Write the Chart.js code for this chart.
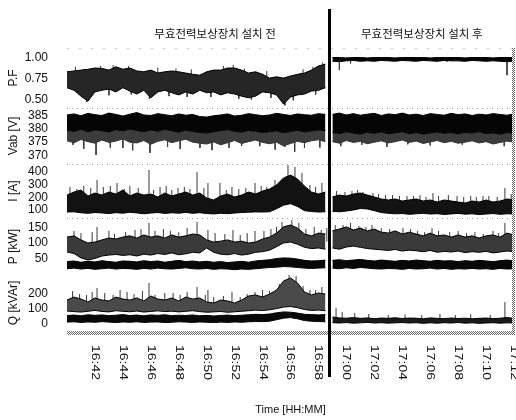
<!DOCTYPE html>
<html><head><meta charset="utf-8">
<script src="https://cdn.jsdelivr.net/npm/chart.js@4.4.1/dist/chart.umd.min.js"></script>
<style>html,body{margin:0;padding:0;background:#fff;}canvas{display:block;}</style>
</head><body>
<canvas id="c" width="516" height="420"></canvas>
<script>
// ---- time (minutes after 16:40) ----
const timesBefore = [0,0.5,1,1.5,2,2.5,3,3.5,4,4.5,5,5.5,6,6.5,7,7.5,8,8.5,9,9.5,10,10.5,11,11.5,12,12.5,13,13.5,14,14.5,15,15.5,16,16.5,17,17.5,18,18.5];
const timesAfter = [19,19.5,20,20.5,21,21.5,22,22.5,23,23.5,24,24.5,25,25.5,26,26.5,27,27.5,28,28.5,29,29.5,30,30.5,31,31.5,32];
const switchTime = 18.75;
const tickMinutes = [2,4,6,8,10,12,14,16,18,20,22,24,26,28,30,32];
const tickLabels = ["16:42","16:44","16:46","16:48","16:50","16:52","16:54","16:56","16:58","17:00","17:02","17:04","17:06","17:08","17:10","17:12"];
const periodTitles = ["무효전력보상장치 설치 전","무효전력보상장치 설치 후"];
const panelTitles = ["P.F","Vab [V]","I [A]","P [kW]","Q [kVAr]"];
const pfTicks = [0.5,0.75,1.0];
const vTicks = [370,375,380,385];
const iTicks = [100,200,300,400];
const pTicks = [50,100,150];
const qTicks = [0,100,200];

// ---- P.F ----
const pfHiBefore = [.83,.84,.85,.86,.875,.87,.85,.89,.86,.875,.84,.83,.85,.815,.83,.84,.83,.815,.80,.79,.83,.85,.85,.875,.875,.85,.815,.83,.80,.755,.77,.755,.78,.80,.815,.85,.90,.92];
const pfLoBefore = [.64,.61,.54,.48,.59,.61,.625,.59,.64,.60,.565,.61,.52,.59,.61,.58,.555,.59,.565,.61,.58,.59,.555,.58,.565,.54,.52,.54,.59,.58,.555,.445,.53,.555,.565,.60,.61,.64];
const pfHiAfter = [1.0,1.0,.995,1.0,1.0,.995,1.0,1.0,1.0,.995,1.0,1.0,1.0,1.0,.995,1.0,1.0,1.0,1.0,.995,1.0,1.0,1.0,.995,1.0,1.0,1.0];
const pfLoAfter = [.955,.95,.96,.965,.955,.96,.955,.965,.96,.955,.965,.96,.955,.965,.96,.955,.965,.96,.96,.955,.965,.96,.955,.96,.955,.95,.955];
const pfSpikesBefore = [[0.6,.89],[1.4,.47],[2.4,.90],[3.0,.55],[3.3,.91],[4.4,.90],[4.6,.56],[5.9,.51],[6.5,.88],[7.3,.54],[7.8,.87],[8.6,.53],[8.9,.86],[10.3,.53],[11.2,.90],[11.9,.91],[12.3,.51],[12.7,.87],[13.2,.50],[14.3,.84],[14.6,.52],[15.6,.43],[16.2,.49],[16.9,.86],[17.6,.89],[17.8,.56],[18.3,.94]];
const pfSpikesAfter = [[19.5,.85],[20.3,.93],[27.2,.95],[31.5,.79]];

// ---- Vab ----
const vHiBefore = [385.2,385.6,384.9,385.8,385.3,385.0,385.9,385.4,384.8,385.5,386.1,385.2,385.0,385.7,385.3,384.9,385.6,385.1,385.4,384.6,384.4,384.9,385.2,385.6,384.8,385.1,385.7,385.3,384.9,385.2,385.8,385.4,385.0,385.6,385.3,385.1,385.7,385.4];
const vCoreBefore = [379.5,379.0,379.8,378.9,379.6,379.3,378.8,379.7,379.2,379.9,379.4,378.9,379.6,379.1,379.8,379.3,378.7,379.5,379.0,378.6,378.4,378.9,379.3,379.7,379.0,378.8,379.4,379.1,378.6,378.9,379.2,378.5,379.0,379.4,378.8,379.2,379.6,379.3];
const vLoBefore = [375.5,374.8,376.0,375.2,374.6,375.8,374.9,375.4,376.2,375.0,374.7,375.6,374.2,375.3,375.9,374.8,375.5,376.1,375.0,374.6,374.3,375.1,374.0,374.8,375.6,374.5,375.2,375.8,374.9,374.4,375.0,373.6,374.5,375.3,374.8,375.5,375.9,375.2];
const vHiAfter = [385.4,385.9,385.2,385.7,385.1,385.5,385.8,385.0,385.6,385.3,385.9,385.2,385.5,385.0,385.7,385.4,385.1,385.8,385.3,385.6,385.0,385.5,385.2,385.7,385.4,385.1,385.6];
const vCoreAfter = [378.6,378.2,378.9,378.4,378.0,378.7,378.3,378.8,378.1,378.5,378.9,378.2,378.6,378.0,378.4,378.8,378.3,378.6,378.1,378.7,378.4,378.9,378.2,378.5,378.0,378.6,378.3];
const vLoAfter = [375.2,374.6,375.6,374.9,375.3,374.4,375.0,375.5,374.7,375.2,375.8,374.9,375.4,374.5,375.1,375.6,374.8,375.3,374.6,375.0,375.5,374.7,375.2,374.3,374.9,375.4,375.0];
const vSpikesBefore = [[0.43,374.0],[1.2,372.5],[2.08,370.2],[3.1,373.0],[4.0,372.8],[4.7,371.9],[5.94,371.0],[7.2,373.2],[8.1,372.5],[9.52,372.8],[10.38,372.0],[11.6,372.9],[12.5,373.6],[13.8,373.5],[14.9,372.2],[15.6,373.3],[16.3,371.4],[17.0,372.8],[18.1,373.0]];
const vSpikesAfter = [[19.6,373.5],[21.1,374.0],[22.9,373.2],[24.4,374.2],[26.0,373.8],[28.3,374.1],[31.3,373.5]];

// ---- I ----
const iHiBefore = [218,242,258,211,234,218,242,226,258,211,234,218,226,203,234,211,226,242,218,234,195,179,211,226,203,218,242,226,250,266,297,353,376,345,289,242,226,242];
const iLoBefore = [84,86,78,74,80,77,72,79,75,82,77,70,76,80,73,78,75,81,74,79,72,69,74,71,76,80,83,85,84,86,110,138,150,128,95,88,84,86];
const iHiAfter = [203,218,211,226,234,218,203,187,179,187,171,179,187,171,179,163,179,171,163,155,171,163,179,163,171,187,179];
const iLoAfter = [90,86,92,100,112,108,95,80,74,70,72,66,70,74,68,71,65,69,73,67,70,64,68,72,66,70,68];
const iSpikesBefore = [[0.21,282],[0.7,266],[1.2,290],[1.7,274],[2.15,337],[2.6,282],[3.1,290],[3.58,313],[4.1,266],[4.5,290],[5.1,274],[5.87,416],[6.2,258],[6.66,282],[7.1,290],[7.5,258],[7.95,274],[8.4,282],[8.8,266],[9.31,400],[9.8,274],[10.09,313],[10.95,313],[11.4,258],[11.81,282],[12.3,266],[12.8,274],[13.46,313],[13.9,290],[14.3,282],[14.89,337],[15.3,330],[15.82,455],[16.32,440],[16.82,392],[17.39,297],[17.8,282],[18.25,313]];
const iSpikesAfter = [[19.3,250],[19.9,242],[20.4,250],[20.8,258],[21.19,242],[21.9,234],[22.3,226],[22.8,218],[23.3,218],[23.8,211],[24.34,211],[24.8,211],[25.27,218],[25.7,203],[26.2,234],[26.6,211],[27.3,218],[27.92,211],[28.4,203],[28.9,211],[29.3,203],[29.78,211],[30.2,211],[30.8,203],[31.35,274],[31.8,226]];

// ---- P (two series) ----
const p1HiBefore = [119,123,110,100,103,110,116,113,119,123,116,126,119,123,116,126,119,123,129,126,110,103,106,110,103,106,100,103,113,119,132,152,158,148,129,123,132,129];
const p1LoBefore = [71,66,52,45,50,58,61,63,60,62,58,64,61,66,63,68,62,65,70,68,84,70,64,62,66,61,64,70,72,77,88,100,103,96,86,82,84,80];
const p1HiAfter = [139,145,152,142,148,139,145,135,132,139,129,135,129,123,132,123,126,119,126,119,123,116,123,126,119,132,126];
const p1LoAfter = [84,80,87,90,86,82,80,78,76,79,74,77,75,72,76,70,73,71,74,69,72,70,73,68,71,74,72];
const p1SpikesBefore = [[0.5,139],[1.0,132],[1.8,135],[2.15,152],[3.0,139],[3.4,129],[4.2,135],[4.87,142],[5.3,145],[5.87,165],[6.3,139],[6.9,145],[7.4,139],[8.0,135],[8.6,148],[9.31,168],[10.09,142],[10.6,132],[11.3,129],[11.88,142],[12.4,126],[12.9,132],[13.46,139],[14.1,139],[14.6,145],[15.0,152],[15.39,168],[16.1,174],[16.6,165],[17.1,145],[17.7,152],[18.2,142],[18.6,148]];
const p1SpikesAfter = [[19.2,158],[19.76,158],[20.3,165],[20.9,155],[21.4,152],[21.83,158],[22.5,148],[23.1,145],[23.6,139],[24.05,148],[24.6,145],[25.1,139],[25.6,135],[26.13,148],[26.6,139],[27.4,135],[28.0,139],[28.6,132],[29.2,135],[29.8,129],[30.5,139],[30.9,132],[31.35,165]];
const p2HiBefore = [40,42,38,41,39,43,40,38,42,41,39,43,40,42,38,41,44,40,42,39,41,38,40,37,39,41,38,42,44,46,50,52,51,48,44,42,43,45];
const p2LoBefore = [17,19,16,18,15,17,19,16,18,17,15,18,16,19,17,16,18,20,17,16,18,15,17,16,14,16,15,17,19,21,22,24,23,21,19,18,19,20];
const p2HiAfter = [44,46,43,45,47,44,42,45,43,41,44,42,45,43,41,44,42,43,40,43,41,44,42,40,43,45,42];
const p2LoAfter = [19,17,20,18,21,19,17,16,18,17,15,18,16,17,19,16,18,15,17,16,18,16,17,15,18,16,17];

// ---- Q (two series) ----
const q1HiBefore = [155,175,162,142,169,155,149,175,162,155,169,149,182,162,155,169,149,175,162,169,142,135,155,149,135,155,182,189,175,195,222,282,302,269,209,189,202,195];
const q1LoBefore = [82,78,75,80,86,79,76,84,80,77,82,75,79,83,78,81,76,80,84,78,74,76,79,73,77,80,84,88,85,90,98,108,112,104,92,86,88,84];
const q2HiBefore = [52,55,50,57,53,56,51,54,58,52,55,50,56,53,57,51,54,52,56,50,53,49,52,55,51,54,57,60,58,62,70,76,74,68,60,58,56,58];
const q2LoBefore = [8,10,6,9,7,11,8,5,9,7,10,6,8,9,5,7,10,8,6,9,7,5,8,6,9,7,10,12,11,14,24,34,38,30,18,14,12,10];
const qHiAfter = [42,36,34,38,33,36,31,35,33,37,32,35,34,30,36,33,31,35,32,34,30,33,35,31,34,38,33];
const qLoAfter = [4,2,5,1,3,6,2,4,1,3,5,2,4,0,3,1,4,2,5,1,3,0,2,4,1,3,2];
const qSpikesBefore = [[0.4,215],[0.9,195],[1.4,189],[1.8,209],[2.15,235],[2.7,202],[3.3,189],[3.8,222],[4.3,209],[4.8,195],[5.4,215],[5.87,269],[6.3,189],[7.0,202],[7.6,202],[8.1,189],[8.6,209],[9.31,242],[9.9,189],[10.09,222],[10.5,175],[11.2,182],[11.81,209],[12.4,175],[12.9,195],[13.46,209],[14.0,222],[14.5,215],[15.2,262],[15.9,335],[16.4,315],[16.9,249],[17.39,222],[17.8,222],[18.25,242]];
const qSpikesAfter = [[19.26,102],[19.7,75],[20.6,69],[21.6,62],[23.0,55],[24.2,58],[25.4,55],[26.7,62],[27.8,55],[28.9,60],[30.3,55],[31.35,142]];

// ---------- styles ----------
const FONT = "'Liberation Sans', Arial, sans-serif";
Chart.defaults.font.family = FONT;
function tile(rows, ink){
  const c = document.createElement('canvas'); c.width = rows[0].length; c.height = rows.length;
  const g = c.getContext('2d'); g.fillStyle = '#fff'; g.fillRect(0,0,c.width,c.height);
  g.fillStyle = ink;
  rows.forEach((r,y)=>{ for(let x=0;x<r.length;x++) if(r[x]==='#') g.fillRect(x,y,1,1); });
  return g.createPattern(c,'repeat');
}
const HATCH = tile(["#.",".#"], '#6a6a6a');

// ---------- build datasets ----------
function pts(times, vals){ return times.map((t,i)=>({x:t,y:vals[i]})); }
function line(times, vals, axis, color, fillSpec, bg){
  return {type:'line', data:pts(times, vals), yAxisID:axis, borderColor:color, borderWidth:1,
    pointRadius:0, tension:0, fill: fillSpec || false, backgroundColor: bg || 'transparent'};
}
function band(times, hi, lo, axis, bg){
  return [line(times, hi, axis, '#000'), line(times, lo, axis, '#000', '-1', bg)];
}
function spikes(list, times, hi, lo, axis){
  const data = [];
  list.forEach(([t,v])=>{
    let idx = 0, best = Infinity;
    times.forEach((tt,k)=>{ const d=Math.abs(tt-t); if(d<best){best=d;idx=k;} });
    data.push({x:t,y:(hi[idx]+lo[idx])/2},{x:t,y:v},{x:t,y:null});
  });
  return {type:'line', data, yAxisID:axis, borderColor:'#3a3a3a', borderWidth:1, pointRadius:0, fill:false, spanGaps:false};
}

const datasets = [
  ...band(timesBefore, pfHiBefore, pfLoBefore, 'yPF', '#262626'),
  ...band(timesAfter, pfHiAfter, pfLoAfter, 'yPF', '#000'),
  spikes(pfSpikesBefore, timesBefore, pfHiBefore, pfLoBefore, 'yPF'),
  spikes(pfSpikesAfter, timesAfter, pfHiAfter, pfLoAfter, 'yPF'),

  line(timesBefore, vHiBefore, 'yV', '#000'),
  line(timesBefore, vCoreBefore, 'yV', '#000', '-1', '#050505'),
  line(timesBefore, vLoBefore, 'yV', '#333', '-1', '#3c3c3c'),
  line(timesAfter, vHiAfter, 'yV', '#000'),
  line(timesAfter, vCoreAfter, 'yV', '#000', '-1', '#050505'),
  line(timesAfter, vLoAfter, 'yV', '#333', '-1', '#3c3c3c'),
  spikes(vSpikesBefore, timesBefore, vCoreBefore, vLoBefore, 'yV'),
  spikes(vSpikesAfter, timesAfter, vCoreAfter, vLoAfter, 'yV'),

  ...band(timesBefore, iHiBefore, iLoBefore, 'yI', '#121212'),
  ...band(timesAfter, iHiAfter, iLoAfter, 'yI', '#121212'),
  spikes(iSpikesBefore, timesBefore, iHiBefore, iLoBefore, 'yI'),
  spikes(iSpikesAfter, timesAfter, iHiAfter, iLoAfter, 'yI'),

  ...band(timesBefore, p1HiBefore, p1LoBefore, 'yP', '#3a3a3a'),
  ...band(timesAfter, p1HiAfter, p1LoAfter, 'yP', '#3a3a3a'),
  spikes(p1SpikesBefore, timesBefore, p1HiBefore, p1LoBefore, 'yP'),
  spikes(p1SpikesAfter, timesAfter, p1HiAfter, p1LoAfter, 'yP'),
  ...band(timesBefore, p2HiBefore, p2LoBefore, 'yP', '#080808'),
  ...band(timesAfter, p2HiAfter, p2LoAfter, 'yP', '#080808'),

  ...band(timesBefore, q1HiBefore, q1LoBefore, 'yQ', '#4a4a4a'),
  spikes(qSpikesBefore, timesBefore, q1HiBefore, q1LoBefore, 'yQ'),
  ...band(timesBefore, q2HiBefore, q2LoBefore, 'yQ', '#080808'),
  ...band(timesAfter, qHiAfter, qLoAfter, 'yQ', '#1a1a1a'),
  spikes(qSpikesAfter, timesAfter, qHiAfter, qLoAfter, 'yQ'),
];

function yAxis(min, max, weight, ticks, title, fmt){
  return {
    type:'linear', position:'left', stack:'panels', stackWeight:weight, min, max,
    afterBuildTicks: s => { s.ticks = ticks.map(v=>({value:v})); },
    afterFit: s => { s.width = 67; },
    grid:{display:false}, border:{display:false},
    ticks:{autoSkip:false, padding:11, color:'#111', font:{size:12}, callback: fmt},
    title:{display:true, text:title, color:'#111', font:{size:12}, padding:{top:6,bottom:0}}
  };
}

const decor = {
  id:'decor',
  beforeDatasetsDraw(chart){
    const ctx = chart.ctx, ca = chart.chartArea, sc = chart.scales;
    ctx.save();
    ctx.strokeStyle='#9a9a9a'; ctx.lineWidth=1; ctx.setLineDash([1,4]);
    ['yV','yI','yP'].forEach(id=>{
      const y = Math.round(sc[id].top)+0.5;
      ctx.beginPath(); ctx.moveTo(ca.left, y); ctx.lineTo(ca.right, y); ctx.stroke();
    });
    ctx.strokeStyle='#c8c8c8'; ctx.setLineDash([2,10]);
    const yt = Math.round(sc.yPF.top)+0.5;
    ctx.beginPath(); ctx.moveTo(ca.left, yt); ctx.lineTo(ca.right, yt); ctx.stroke();
    ctx.restore();
  },
  afterDraw(chart){
    const ctx = chart.ctx, ca = chart.chartArea, xs = chart.scales.x;
    ctx.save();
    ctx.fillStyle = HATCH;
    ctx.fillRect(ca.left, ca.bottom, ca.right-ca.left, 4);
    ctx.fillRect(ca.right-2, ca.top, 3, ca.bottom-ca.top+4);
    const sx = xs.getPixelForValue(switchTime);
    ctx.fillStyle='#000';
    ctx.fillRect(Math.round(sx)-1, 9, 3, 368);
    ctx.font = "11.5px 'Noto Sans CJK KR', sans-serif";
    ctx.textAlign='center'; ctx.textBaseline='middle'; ctx.fillStyle='#111';
    ctx.fillText(periodTitles[0], xs.getPixelForValue(10.6), 34);
    ctx.fillText(periodTitles[1], xs.getPixelForValue(25.4), 34);
    ctx.font = "11px " + FONT;
    ctx.textAlign='left';
    xs.ticks.forEach(t=>{
      const px = xs.getPixelForValue(t.value);
      ctx.save(); ctx.translate(px, 345); ctx.rotate(Math.PI/2); ctx.scale(1.27,1);
      ctx.fillText(t.label, 0, 0); ctx.restore();
    });
    ctx.restore();
  }
};

new Chart(document.getElementById('c'), {
  data:{datasets},
  options:{
    responsive:false, animation:false, devicePixelRatio:1,
    layout:{padding:{top:48,right:2,left:0,bottom:0}},
    plugins:{legend:{display:false}, tooltip:{enabled:false}},
    scales:{
      x:{type:'linear', min:0, max:32,
        afterBuildTicks: s => { s.ticks = tickMinutes.map(v=>({value:v})); },
        afterFit: s => { s.height = 89; },
        ticks:{display:false, callback:(v)=>tickLabels[tickMinutes.indexOf(v)]},
        grid:{display:false}, border:{display:false},
        title:{display:true, text:'Time [HH:MM]', color:'#111', font:{size:11}, padding:{top:0,bottom:3}}
      },
      yQ: yAxis(-51.3, 322, 56, qTicks, panelTitles[4], v=>String(v)),
      yP: yAxis(-3.2, 180.6, 57, pTicks, panelTitles[3], v=>String(v)),
      yI: yAxis(36.9, 463.1, 54, iTicks, panelTitles[2], v=>String(v)),
      yV: yAxis(366.81, 387.81, 56, vTicks, panelTitles[1], v=>String(v)),
      yPF: yAxis(0.399, 1.113, 60, pfTicks, panelTitles[0], v=>v.toFixed(2))
    }
  },
  plugins:[decor]
});
</script>
</body></html>
